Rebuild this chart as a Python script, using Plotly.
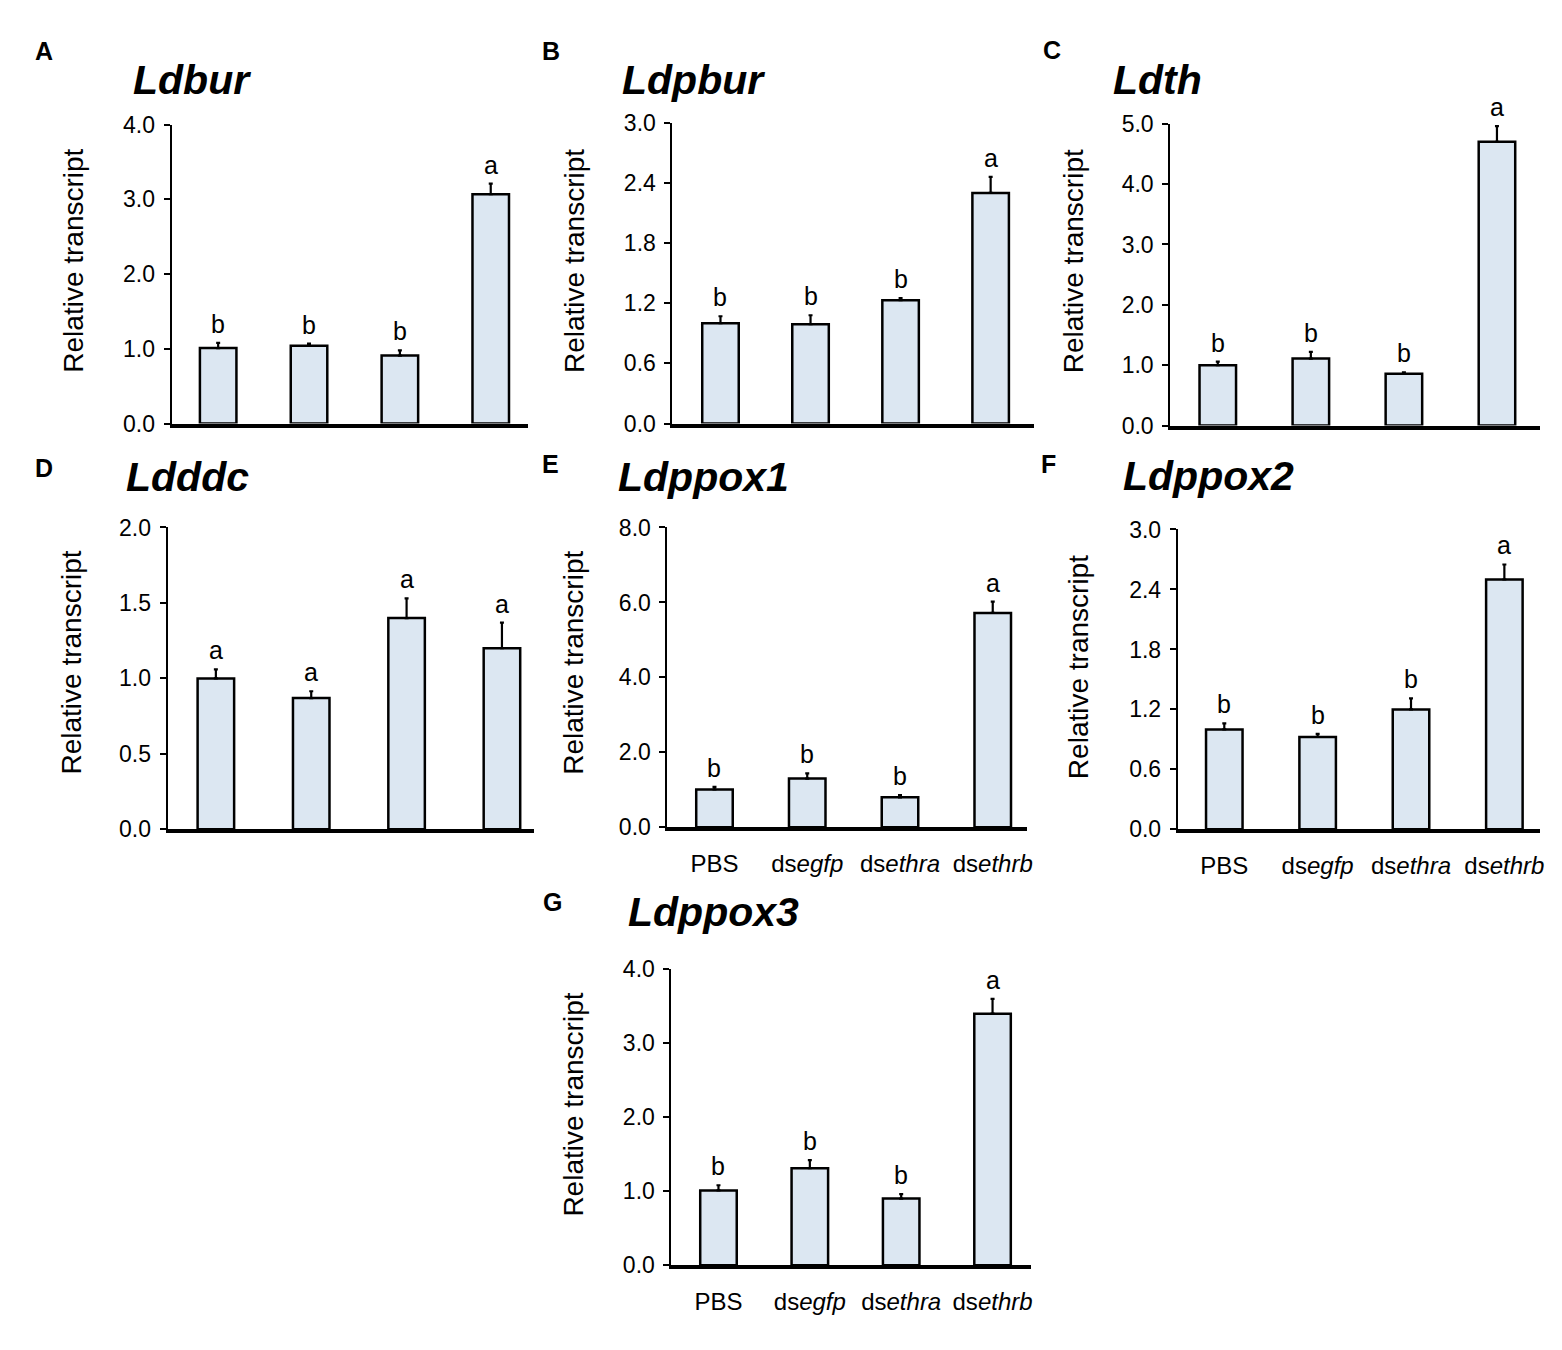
import plotly.graph_objects as go

# figure is 8px smaller on each side to leave room for the page's body margin
W, H = 1546, 1334
OFF = 8

groups = ["PBS", "dsegfp", "dsethra", "dsethrb"]
group_labels = ["PBS", "ds<i>egfp</i>", "ds<i>ethra</i>", "ds<i>ethrb</i>"]

# panel data
panel_ids = ["A", "B", "C", "D", "E", "F", "G"]
genes = ["Ldbur", "Ldpbur", "Ldth", "Ldddc", "Ldppox1", "Ldppox2", "Ldppox3"]

ldbur = [1.01, 1.04, 0.91, 3.07]
ldbur_err = [0.07, 0.03, 0.07, 0.14]
ldbur_sig = ["b", "b", "b", "a"]

ldpbur = [1.0, 0.99, 1.23, 2.30]
ldpbur_err = [0.07, 0.09, 0.02, 0.16]
ldpbur_sig = ["b", "b", "b", "a"]

ldth = [1.0, 1.11, 0.86, 4.70]
ldth_err = [0.06, 0.11, 0.02, 0.26]
ldth_sig = ["b", "b", "b", "a"]

ldddc = [1.0, 0.87, 1.40, 1.20]
ldddc_err = [0.06, 0.045, 0.13, 0.17]
ldddc_sig = ["a", "a", "a", "a"]

ldppox1 = [1.01, 1.30, 0.80, 5.72]
ldppox1_err = [0.07, 0.14, 0.06, 0.30]
ldppox1_sig = ["b", "b", "b", "a"]

ldppox2 = [1.0, 0.925, 1.20, 2.50]
ldppox2_err = [0.06, 0.03, 0.11, 0.15]
ldppox2_sig = ["b", "b", "b", "a"]

ldppox3 = [1.01, 1.31, 0.90, 3.40]
ldppox3_err = [0.07, 0.11, 0.06, 0.20]
ldppox3_sig = ["b", "b", "b", "a"]

values = [ldbur, ldpbur, ldth, ldddc, ldppox1, ldppox2, ldppox3]
errors = [ldbur_err, ldpbur_err, ldth_err, ldddc_err, ldppox1_err, ldppox2_err, ldppox3_err]
letters = [ldbur_sig, ldpbur_sig, ldth_sig, ldddc_sig, ldppox1_sig, ldppox2_sig, ldppox3_sig]

y_max = [4.0, 3.0, 5.0, 2.0, 8.0, 3.0, 4.0]
y_step = [1.0, 0.6, 1.0, 0.5, 2.0, 0.6, 1.0]
show_groups = [False, False, False, False, True, True, True]

# window pixel geometry: axis left, axis right, top, bottom, first bar centre, bar spacing
geom = [
    (170.5, 527, 124, 423, 217, 90.8),
    (671, 1032, 122, 423, 719, 90.0),
    (1168.5, 1538, 123, 425, 1216, 93.0),
    (166.5, 533, 527, 829, 214.7, 95.3),
    (666, 1025, 527, 827, 713, 92.7),
    (1176, 1538, 529, 829, 1222.5, 93.3),
    (670, 1029, 969, 1265, 717, 91.3),
]
# panel letter centre, title left/centre, y title centre
letter_pos = [(43, 50), (550, 50), (1050, 49), (43, 467), (549, 463), (1047, 463), (551, 902)]
title_pos = [(130, 79), (619, 79), (1109, 79), (123, 476), (615, 476), (1119, 475), (625, 912)]
ytitle_pos = [(73, 260), (573, 260), (1072, 261), (70, 662), (572, 662), (1077, 667), (572, 1104)]

FONT = "Arial, Liberation Sans, sans-serif"
bar_fill = "#dce7f2"


# window pixels -> paper fraction (small correction measured from a test render)
def px(x):
    g = (x + 1) / 0.9955
    return (g - OFF) / W


def py(y):
    g = (y - 12.4) / 0.981
    return 1 - (g - OFF) / H


fig = go.Figure()
annotations = []

for k in range(7):
    left, right, top, bottom, c0, sp = geom[k]
    n = "" if k == 0 else str(k + 1)
    xa, ya = "x" + n, "y" + n

    # data units per paper fraction along x
    p_l, p_r = px(left), px(right)
    p_c0, p_c1 = px(c0), px(c0 + sp)
    unit = p_c1 - p_c0

    fig.add_trace(go.Bar(
        x=list(range(4)),
        y=values[k],
        width=36.5 / sp,
        marker=dict(color=bar_fill, line=dict(color="black", width=2.5)),
        error_y=dict(type="data", symmetric=False, array=errors[k],
                     arrayminus=[0] * 4, color="black", thickness=2.2, width=2),
        xaxis=xa, yaxis=ya, showlegend=False,
    ))

    fig.layout["xaxis" + n] = dict(
        domain=[p_l, p_r],
        range=[(p_l - p_c0) / unit, (p_r - p_c0) / unit],
        anchor=ya,
        tickvals=list(range(4)),
        ticktext=group_labels,
        showticklabels=show_groups[k],
        ticks="outside", ticklen=12, tickcolor="rgba(0,0,0,0)",
        tickfont=dict(size=24, color="black", family=FONT),
        showline=True, linecolor="black", linewidth=4,
        showgrid=False, zeroline=False, fixedrange=True,
    )
    ticks = []
    v = 0.0
    while v <= y_max[k] + 1e-9:
        ticks.append(round(v, 2))
        v += y_step[k]
    fig.layout["yaxis" + n] = dict(
        domain=[py(bottom), py(top)],
        range=[0, y_max[k]],
        anchor=xa,
        tickvals=ticks,
        ticktext=["%.1f" % t for t in ticks],
        ticks="outside", ticklen=6, tickwidth=2, tickcolor="black",
        ticklabelstandoff=4,
        tickfont=dict(size=23, color="black", family=FONT),
        showline=True, linecolor="black", linewidth=2,
        showgrid=False, zeroline=False, fixedrange=True,
    )

    # significance letters
    for i in range(4):
        annotations.append(dict(
            x=i, y=values[k][i] + errors[k][i], xref=xa, yref=ya,
            text=letters[k][i], showarrow=False, yanchor="bottom",
            yshift=3, font=dict(size=25, color="black", family=FONT),
        ))

    lx, ly = letter_pos[k]
    annotations.append(dict(
        x=px(lx), y=py(ly), xref="paper", yref="paper",
        text="<b>" + panel_ids[k] + "</b>", showarrow=False,
        xanchor="center", yanchor="middle",
        font=dict(size=25, color="black", family=FONT),
    ))
    tx, ty = title_pos[k]
    annotations.append(dict(
        x=px(tx), y=py(ty), xref="paper", yref="paper",
        text="<b><i>" + genes[k] + "</i></b>", showarrow=False,
        xanchor="left", yanchor="middle",
        font=dict(size=41, color="black", family=FONT),
    ))
    yx, yy = ytitle_pos[k]
    annotations.append(dict(
        x=px(yx), y=py(yy), xref="paper", yref="paper",
        text="Relative transcript", showarrow=False, textangle=-90,
        xanchor="center", yanchor="middle",
        font=dict(size=28, color="black", family=FONT),
    ))

fig.update_layout(
    width=W, height=H,
    margin=dict(l=0, r=0, t=0, b=0),
    paper_bgcolor="white", plot_bgcolor="white",
    annotations=annotations,
    font=dict(family=FONT, color="black"),
)

fig.write_html("out.html")
